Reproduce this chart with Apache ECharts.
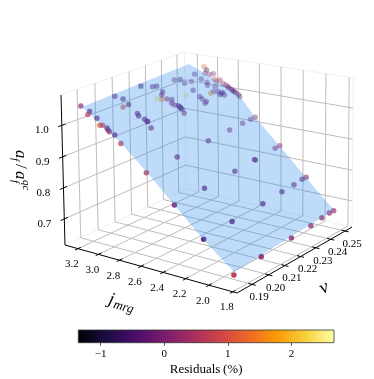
<!DOCTYPE html>
<html>
<head>
<meta charset="utf-8">
<script src="https://cdn.jsdelivr.net/npm/echarts@6/dist/echarts.min.js"></script>
<style>html,body{margin:0;background:#fff}#main{width:374px;height:379px}</style>
</head>
<body>
<div id="main"></div>
<script>
// round markers
var jmrg = [
    3.20,3.14,3.13,3.08,3.03,3.02,2.99,2.98,2.96,2.93,2.86,3.17,3.13,3.08,3.08,
    3.00,2.98,2.94,2.92,2.92,2.87,2.62,2.62,3.04,3.02,3.01,3.05,3.07,3.13,3.12,
    2.99,2.97,2.95,2.93,2.92,2.91,2.90,2.87,3.11,3.10,3.06,3.09,2.98,2.99,2.93,
    2.91,2.88,2.87,2.63,3.12,3.09,3.07,3.05,3.04,3.04,3.00,2.98,3.00,2.98,2.98,
    2.95,2.93,2.91,2.90,2.88,2.87,2.86,2.85,2.83,2.81,2.95,2.92,2.92,2.91,2.89,
    2.87,2.88,2.89,2.63,2.63,2.63,2.63,2.38,2.38,2.37,2.37,2.37,2.11,2.11,2.36,
    2.36,2.09,2.11,2.11,2.10,2.10,1.82,1.83,1.83,1.83,1.84,1.84,1.84
];
var nu = [
    .1847,.1861,.1845,.1866,.1852,.1861,.1869,.1868,.1865,.1876,.1868,.2021,
    .2044,.2014,.2046,.2048,.2043,.2053,.2055,.2059,.2047,.1863,.2041,.2190,
    .2207,.2232,.2225,.2243,.2219,.2238,.2249,.2234,.2240,.2250,.2252,.2252,
    .2253,.2247,.2342,.2372,.2374,.2458,.2331,.2382,.2385,.2387,.2393,.2379,
    .2237,.2540,.2536,.2513,.2529,.2548,.2468,.2479,.2469,.2528,.2551,.2528,
    .2551,.2556,.2556,.2556,.2559,.2560,.2563,.2566,.2570,.2566,.2497,.2467,
    .2448,.2490,.2498,.2505,.2483,.2508,.2541,.2511,.2457,.2372,.2525,.2494,
    .2349,.2356,.2224,.2502,.2474,.2031,.1856,.1844,.2419,.2339,.2208,.2018,
    .1833,.2002,.2190,.2317,.2399,.2450,.2480
];
var af = [
    1.062,1.046,1.040,1.027,1.012,1.010,1.002,.997,.993,.983,.963,1.059,1.048,1.032,1.033,
    1.009,1.003,.993,.987,.986,.971,.891,.898,1.025,1.021,1.017,1.029,1.035,1.053,1.051,
    1.013,1.005,1.000,.996,.993,.990,.986,.976,1.052,1.049,1.038,1.050,1.012,1.017,.999,
    .992,.984,.982,.905,1.059,1.050,1.044,1.039,1.037,1.035,1.024,1.017,1.025,1.019,1.018,
    1.009,1.004,.999,.995,.991,.987,.984,.980,.975,.969,1.008,.999,.998,.996,.990,
    .984,.988,.990,.916,.916,.914,.910,.841,.840,.837,.834,.828,.762,.762,.822,
    .814,.736,.758,.755,.750,.743,.657,.664,.670,.675,.678,.680,.680
];
var residuals = [
    0,-.2,.6,-.1,1.1,.7,.1,.05,.3,-.15,.6,-.1,-.35,1.0,-.2,
    -.15,-.05,-.15,-.2,-.1,.05,.6,.05,2.4,1.7,.3,.05,-.2,-.1,-.4,
    -.1,.15,.1,-.2,-.2,-.25,-.2,.05,.05,-.35,-.1,-.35,2.4,-.1,-.1,
    -.15,-.1,.05,-.1,1.2,-1.0,0,0,.1,-.35,0,-.1,1.0,.05,.6,
    .2,.1,-.3,-.35,-.4,-.4,-.35,-.3,-.25,0,.1,.15,1.6,-.1,-.25,
    -.25,-.2,-.25,.2,.2,.15,.05,.3,.15,.05,-.1,-.1,.15,0,-.1,
    -.15,-.3,0,-.15,-.25,-.3,.7,.15,.15,.15,.1,.15,.35
];
// square markers
var sqJmrg = [3.07,3.15];
var sqNu = [.2424,.2162];
var sqAf = [1.033,1.065];
var sqResiduals = [.3,-.8];

// fitted surface, edges at the smallest and largest nu
var edgeNuLow = .1845;
var edgeJLow = [3.186,2.820,2.585,2.094,1.836];
var edgeZLow = [1.060,.972,.898,.735,.661];
var edgeNuHigh = .2481;
var edgeJHigh = [3.179,2.926,2.688,2.548,2.318,2.085,1.839];
var edgeZHigh = [1.076,1.037,.995,.935,.853,.768,.682];

var jTicks = [1.8,2.0,2.2,2.4,2.6,2.8,3.0,3.2];
var nuTicks = [.19,.20,.21,.22,.23,.24,.25];
var zTicks = [.7,.8,.9,1.0];
var barTicks = [-1,0,1,2];

var jRange = [1.765,3.329], nuRange = [.1812,.2549], zRange = [.615,1.096];
var barRange = [-1.35,2.67];
var inferno = ['#000004','#1b0c41','#4a0c6b','#781c6d','#a52c60','#cf4446','#ed6925','#fb9b06','#f7d13d','#fcffa4'];
var serif = '"Liberation Serif","Times New Roman",serif';

function unit(j, n, z) {
    return [(j - jRange[0]) / (jRange[1] - jRange[0]), (n - nuRange[0]) / (nuRange[1] - nuRange[0]), (z - zRange[0]) / (zRange[1] - zRange[0])];
}
// camera of the 3d box, gives a point in page pixels
function proj(j, n, z) {
    var p = unit(j, n, z), d = 1 + .1031 * p[0] + .1113 * p[1] - .02 * p[2];
    return [(237 - 165.3 * p[0] + 154.2 * p[1] - 5.63 * p[2]) / d, (293 - 22.7 * p[0] - 40.7 * p[1] - 167.4 * p[2]) / d];
}
function seg(a, b) { return proj(a[0], a[1], a[2]).concat(proj(b[0], b[1], b[2])); }

var j0 = jRange[0], j1 = jRange[1], n0 = nuRange[0], n1 = nuRange[1], z0 = zRange[0], z1 = zRange[1];
var gridSegs = [], edgeSegs = [], axisSegs = [], tickLabels = [];
jTicks.forEach(function (t) {
    gridSegs.push(seg([t, n0, z0], [t, n1, z0]), seg([t, n1, z0], [t, n1, z1]));
    axisSegs.push(seg([t, n0 - .0016, z0], [t, n0 + .0016, z0]));
    var p = proj(t, n0, z0);
    tickLabels.push([p[0] - 6, p[1] + 15.5, t.toFixed(1)]);
});
nuTicks.forEach(function (t) {
    gridSegs.push(seg([j0, t, z0], [j1, t, z0]), seg([j1, t, z0], [j1, t, z1]));
    axisSegs.push(seg([j0 - .03, t, z0], [j0 + .03, t, z0]));
    var p = proj(j0, t, z0);
    tickLabels.push([p[0] + 7, p[1] + 13, t.toFixed(2)]);
});
zTicks.forEach(function (t) {
    gridSegs.push(seg([j1, n0, t], [j1, n1, t]), seg([j1, n1, t], [j0, n1, t]));
    axisSegs.push(seg([j1, n0 - .002, t], [j1, n0 + .002, t]));
    var p = proj(j1, n0, t);
    tickLabels.push([p[0] - 20, p[1] + 5, t.toFixed(1)]);
});
edgeSegs.push(seg([j1, n0, z1], [j1, n1, z1]), seg([j1, n1, z1], [j0, n1, z1]), seg([j1, n0, z0], [j1, n1, z0]), seg([j1, n1, z0], [j0, n1, z0]), seg([j1, n1, z0], [j1, n1, z1]), seg([j0, n1, z0], [j0, n1, z1]));
axisSegs.push(seg([j0, n0, z0], [j1, n0, z0]), seg([j0, n0, z0], [j0, n1, z0]), seg([j1, n0, z0], [j1, n0, z1]));

var surface = [];
edgeJLow.forEach(function (j, i) { surface.push(proj(j, edgeNuLow, edgeZLow[i])); });
edgeJHigh.slice().reverse().forEach(function (j, i) { surface.push(proj(j, edgeNuHigh, edgeZHigh[edgeZHigh.length - 1 - i])); });

function points(js, ns, zs, rs) {
    return js.map(function (j, i) {
        var p = proj(j, ns[i], zs[i]), u = unit(j, ns[i], zs[i]);
        // rear points fade, like depth shading
        return { value: [p[0], p[1], rs[i]], itemStyle: { opacity: Math.max(.35, .98 - .7 * (u[0] + u[1]) / 2) } };
    });
}
function lineSeries(rows, color, width, zz) {
    return {
        type: 'custom', data: rows, silent: true, animation: false, xAxisIndex: 0, yAxisIndex: 0, z: zz,
        renderItem: function (params, api) {
            return { type: 'line', shape: { x1: api.value(0), y1: api.value(1), x2: api.value(2), y2: api.value(3) }, style: { stroke: color, lineWidth: width } };
        }
    };
}

var chart = echarts.init(document.getElementById('main'), null, { renderer: 'canvas' });
var option = {
    animation: false,
    grid: [
        { left: 0, top: 0, width: 374, height: 379 },
        { left: 78.3, top: 330, width: 255.7, height: 12.7 }
    ],
    xAxis: [
        { gridIndex: 0, type: 'value', min: 0, max: 374, show: false },
        {
            gridIndex: 1, type: 'value', min: barRange[0], max: barRange[1], position: 'bottom',
            splitLine: { show: false },
            axisLine: { show: false },
            axisTick: { length: 3, customValues: barTicks, lineStyle: { color: '#222', width: .8 } },
            axisLabel: {
                customValues: barTicks, margin: 6, color: '#000', fontFamily: serif, fontSize: 11,
                formatter: function (v) { return String(v).replace('-', '\u2212'); }
            },
            name: 'Residuals\u2009(%)', nameLocation: 'middle', nameGap: 20,
            nameTextStyle: { color: '#000', fontFamily: serif, fontSize: 13 }
        }
    ],
    yAxis: [
        { gridIndex: 0, type: 'value', min: 0, max: 379, inverse: true, show: false },
        { gridIndex: 1, type: 'value', min: 0, max: 1, show: false }
    ],
    visualMap: {
        type: 'continuous', show: false, min: barRange[0], max: barRange[1], dimension: 2,
        seriesIndex: [2, 3], inRange: { color: inferno }
    },
    series: [
        lineSeries(edgeSegs, '#ececec', .8, 1),
        lineSeries(gridSegs, '#bdbdbd', 1, 1),
        { type: 'scatter', z: 2, data: points(jmrg, nu, af, residuals), symbol: 'circle', symbolSize: 5.5, silent: true, xAxisIndex: 0, yAxisIndex: 0 },
        { type: 'scatter', z: 2, data: points(sqJmrg, sqNu, sqAf, sqResiduals), symbol: 'rect', symbolSize: 5, silent: true, xAxisIndex: 0, yAxisIndex: 0 },
        {
            type: 'custom', z: 3, data: [0], silent: true, xAxisIndex: 0, yAxisIndex: 0,
            renderItem: function () {
                return { type: 'polygon', shape: { points: surface }, style: { fill: 'rgba(40,140,240,0.3)' } };
            }
        },
        lineSeries(axisSegs, '#000', 1, 4),
        {
            type: 'custom', z: 4, data: tickLabels.map(function (r) { return [r[0], r[1]]; }), silent: true, xAxisIndex: 0, yAxisIndex: 0,
            renderItem: function (params, api) {
                return {
                    type: 'text', x: api.value(0), y: api.value(1),
                    style: { text: tickLabels[params.dataIndex][2], font: '11px ' + serif, fill: '#000', align: 'center', verticalAlign: 'middle' }
                };
            }
        },
        {
            type: 'custom', xAxisIndex: 1, yAxisIndex: 1, data: [[barRange[0], barRange[1]]], silent: true,
            renderItem: function (params, api) {
                var a = api.coord([api.value(0), 1]), b = api.coord([api.value(1), 0]);
                return {
                    type: 'rect', shape: { x: a[0], y: a[1], width: b[0] - a[0], height: b[1] - a[1] },
                    style: {
                        fill: new echarts.graphic.LinearGradient(0, 0, 1, 0, inferno.map(function (c, i) { return { offset: i / (inferno.length - 1), color: c }; })),
                        stroke: '#333', lineWidth: .8
                    }
                };
            }
        }
    ],
    graphic: [
        {
            type: 'group', x: 109, y: 299, rotation: -.27,
            children: [
                { type: 'text', x: 0, y: 0, style: { text: 'j', font: 'italic 18px ' + serif, fill: '#000', verticalAlign: 'middle' } },
                { type: 'text', x: 6, y: 4, style: { text: 'mrg', font: 'italic 13px ' + serif, fill: '#000', verticalAlign: 'middle' } }
            ]
        },
        { type: 'text', x: 324, y: 288, rotation: .45, originX: 0, originY: 0, style: { text: '\u03bd', font: 'italic 19px ' + serif, fill: '#000', align: 'center', verticalAlign: 'middle' } },
        {
            type: 'group', x: 20, y: 150, rotation: -Math.PI / 2,
            children: [
                { type: 'text', x: 0, y: 0, style: { text: 'a', font: 'italic 17px ' + serif, fill: '#000', verticalAlign: 'middle' } },
                { type: 'text', x: 8, y: 5, style: { text: 'f', font: 'italic 11px ' + serif, fill: '#000', verticalAlign: 'middle' } },
                { type: 'text', x: 14, y: 0, style: { text: '/', font: '17px ' + serif, fill: '#000', verticalAlign: 'middle' } },
                { type: 'text', x: 21, y: 0, style: { text: 'a', font: 'italic 17px ' + serif, fill: '#000', verticalAlign: 'middle' } },
                { type: 'text', x: 30, y: 5, style: { text: 'f', font: 'italic 11px ' + serif, fill: '#000', verticalAlign: 'middle' } },
                { type: 'text', x: 30, y: -6, style: { text: 'qc', font: 'italic 11px ' + serif, fill: '#000', verticalAlign: 'middle' } }
            ]
        }
    ]
};
chart.setOption(option);
</script>
</body>
</html>
